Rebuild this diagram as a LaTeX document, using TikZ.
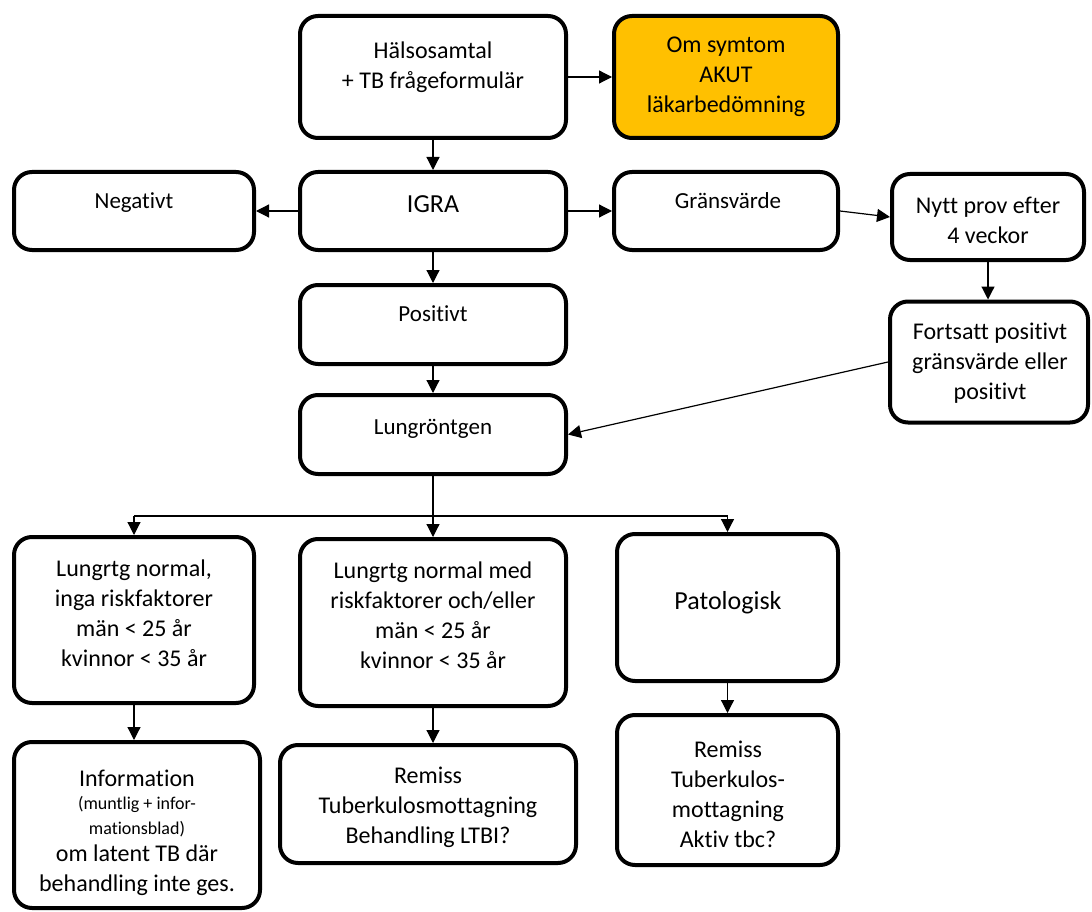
\documentclass[tikz,border=0pt]{standalone}
\usepackage{fontspec}
\setmainfont{Carlito}[Ligatures={NoCommon}]
\usetikzlibrary{arrows.meta}
\definecolor{akutorange}{HTML}{FFC000}
\tikzset{
  box/.style={draw, line width=4pt, rounded corners=18pt, fill=white, inner sep=0pt},
  txt/.style={align=center, inner sep=0pt, font=\fontsize{24}{30}\selectfont},
  txtsmall/.style={align=center, inner sep=0pt, font=\fontsize{23}{28}\selectfont},
  txtbig/.style={align=center, inner sep=0pt, font=\fontsize{26}{30}\selectfont},
  conn/.style={line width=1.2pt, -{Triangle[length=13pt,width=13pt]}},
  plain/.style={line width=1.2pt}
}
\begin{document}
\begin{tikzpicture}[x=1pt,y=-1pt]
\useasboundingbox[fill=white] (0,0) rectangle (1092,912);
% boxes
\node[box, minimum width=266pt, minimum height=122pt] (hals) at (433,77) {};
\node[box, fill=akutorange, minimum width=224pt, minimum height=122pt] (akut) at (726,77) {};
\node[box, minimum width=266pt, minimum height=78pt] (igra) at (433,211) {};
\node[box, minimum width=240pt, minimum height=78pt] (neg) at (134,211) {};
\node[box, minimum width=224pt, minimum height=78pt] (grans) at (726,211) {};
\node[box, minimum width=192pt, minimum height=86pt] (nytt) at (988,217) {};
\node[box, minimum width=198pt, minimum height=121pt] (forts) at (989,362) {};
\node[box, minimum width=266pt, minimum height=79pt] (pos) at (433,324.5) {};
\node[box, minimum width=266pt, minimum height=79pt] (lung) at (433,434.5) {};
\node[box, minimum width=240pt, minimum height=166pt] (l1) at (134,620) {};
\node[box, minimum width=266pt, minimum height=167pt] (l2) at (433,622.5) {};
\node[box, minimum width=221pt, minimum height=147pt] (pat) at (727.5,607.5) {};
\node[box, minimum width=246pt, minimum height=166pt] (info) at (137,825) {};
\node[box, minimum width=296pt, minimum height=118pt] (rem) at (428,804) {};
\node[box, minimum width=221pt, minimum height=150pt] (rem2) at (727.5,790) {};
% texts
\node[txt] (hals-t) at (433,67) {Hälsosamtal\\+ TB frågeformulär};
\node[txt] (akut-t) at (726,77) {Om symtom\\AKUT\\läkarbedömning};
\node[txtbig] (igra-t) at (433,204) {IGRA};
\node[txtsmall] (neg-t) at (134,203) {Negativt};
\node[txtsmall] (grans-t) at (728,201) {Gränsvärde};
\node[txt] (nytt-t) at (988,220) {Nytt prov efter\\4 veckor};
\node[txt] (forts-t) at (990,363) {Fortsatt positivt\\gränsvärde eller\\positivt};
\node[txtsmall] (pos-t) at (433,314) {Positivt};
\node[txtsmall] (lung-t) at (433,429) {Lungröntgen};
\node[txt] (l1-t) at (134,613) {Lungrtg normal,\\inga riskfaktorer\\män < 25 år\\kvinnor < 35 år};
\node[txt] (l2-t) at (433,615) {Lungrtg normal med\\riskfaktorer och/eller\\män < 25 år\\kvinnor < 35 år};
\node[txtbig] (pat-t) at (728,603) {Patologisk};
\node[txt] (info-a) at (137,778) {Information};
\node[align=center, inner sep=0pt, font=\fontsize{18}{25}\selectfont] (info-b) at (137,817) {(muntlig + infor-\\mationsblad)};
\node[txt] (info-c) at (137,870) {om latent TB där\\behandling inte ges.};
\node[txt] (rem-t) at (428,807) {Remiss\\Tuberkulosmottagning\\Behandling LTBI?};
\node[txt] (rem2-t) at (728,794) {Remiss\\Tuberkulos-\\mottagning\\Aktiv tbc?};
% connectors
\coordinate (split) at (433,516);
\draw[conn] (hals.east) -- (akut.west);
\draw[conn] (hals.south) -- (igra.north);
\draw[conn] (igra.west) -- (neg.east);
\draw[conn] (igra.east) -- (grans.west);
\draw[conn] (grans.east) -- (nytt.west);
\draw[conn] (nytt.south) -- (nytt.south |- forts.north);
\draw[conn] (igra.south) -- (pos.north);
\draw[conn] (pos.south) -- (lung.north);
\draw[conn] (forts.west) -- (lung.east);
\draw[conn] (lung.south) -- (l2.north);
\draw[plain] (split -| l1.north) -- (split -| pat.north);
\draw[conn] (split -| l1.north) -- (l1.north);
\draw[conn] (split -| pat.north) -- (pat.north);
\draw[conn] (l1.south) -- (l1.south |- info.north);
\draw[conn] (l2.south) -- (l2.south |- rem.north);
\draw[conn] (pat.south) -- (rem2.north);
\end{tikzpicture}
\end{document}
